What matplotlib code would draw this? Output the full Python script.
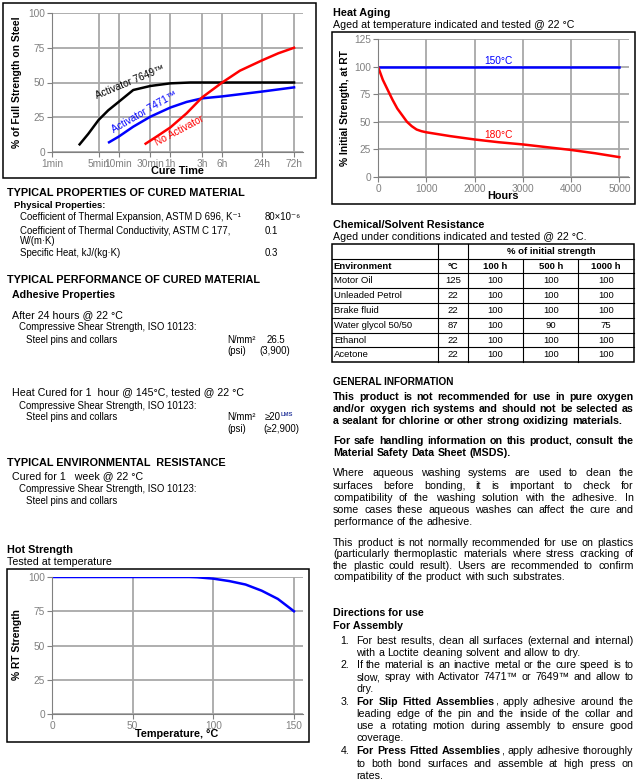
import re
import matplotlib
matplotlib.use('Agg')
import matplotlib.pyplot as plt
from matplotlib.patches import Rectangle
from matplotlib.lines import Line2D
from matplotlib.ticker import NullLocator

plt.rcParams['font.family'] = ['Liberation Sans', 'DejaVu Sans']

# cure speed vs activator (minutes, % of full strength)
cure_ticks = [1, 5, 10, 30, 60, 180, 360, 1440, 4320]
cure_labels = ['1min', '5min', '10min', '30min', '1h', '3h', '6h', '24h', '72h']
a7649_t = [2.6, 3.5, 5, 7, 10, 16.6, 30, 60, 120, 360, 1440, 4320]
a7649_v = [5.5, 13, 23, 30, 36, 44.6, 47.5, 49.4, 50, 50, 50, 50]
a7471_t = [7.2, 10, 16.6, 30, 60, 105, 180, 360, 1440, 4320]
a7471_v = [7, 11, 18.2, 25.4, 32, 36, 38.6, 40, 43.5, 46.5]
noact_t = [25.5, 37, 60, 105, 180, 360, 665, 1440, 2500, 4320]
noact_v = [6, 11, 17.7, 27.8, 39.3, 50, 58.5, 66, 71, 75]

# heat aging (hours, % initial strength)
age_h = [0, 5000]
age_150 = [100, 100]
age180_h = [0, 100, 200, 300, 400, 500, 600, 700, 800, 900, 1000, 1500, 2000, 2500, 3000, 3500, 4000, 4500, 5000]
age180_v = [100, 88, 79, 70, 62, 56, 50, 46, 43, 41.5, 40.5, 37, 34, 31.5, 29.5, 27, 24.5, 21.5, 18]

# hot strength (deg C, % RT strength)
hot_t = [0, 25, 50, 75, 85, 90, 100, 110, 120, 130, 140, 150]
hot_v = [100, 100, 100, 100, 100, 99.8, 98.8, 97, 94.5, 90, 84, 75]

# chemical / solvent resistance table
env = ['Motor Oil', 'Unleaded Petrol', 'Brake fluid', 'Water glycol 50/50', 'Ethanol', 'Acetone']
env_temp = [125, 22, 22, 87, 22, 22]
h100 = [100, 100, 100, 100, 100, 100]
h500 = [100, 100, 100, 90, 100, 100]
h1000 = [100, 100, 100, 75, 100, 100]

W, H = 640, 782
fig = plt.figure(figsize=(6.4, 7.82), dpi=100)
renderer = fig.canvas.get_renderer()
GRAY = '#808080'
GRID = '#a8a8a8'


def T(x, y, s, size=7.7, bold=False, color='black', ha='left', va='center', **kw):
    return fig.text(x / W, 1 - y / H, s, fontsize=size, fontweight='bold' if bold else 'normal',
                    color=color, ha=ha, va=va, **kw)


def tw(s, size, bold):
    t = T(0, 0, s, size, bold)
    w = t.get_window_extent(renderer).width
    t.remove()
    return w


def para(lines, x0, x1, y0, dy, size=7.7, bold=False):
    # justified paragraph, **word** switches bold on/off
    state = bold
    space = tw('a a', size, False) - tw('aa', size, False)
    for i, line in enumerate(lines):
        words = [[]]
        for piece in re.split(r'(\*\*)', line):
            if piece == '**':
                state = not state
                continue
            for j, p in enumerate(piece.split(' ')):
                if j > 0:
                    words.append([])
                if p:
                    words[-1].append((p, state))
        words = [w for w in words if w]
        widths = [sum(tw(s, size, b) for s, b in w) for w in words]
        if i == len(lines) - 1 or len(words) < 2:
            gap = space
        else:
            gap = (x1 - x0 - sum(widths)) / (len(words) - 1)
        x = x0
        y = y0 + i * dy
        for w, wd in zip(words, widths):
            xx = x
            for s, b in w:
                T(xx, y, s, size, b)
                xx += tw(s, size, b)
            x += wd + gap


def frame(x0, y0, x1, y1):
    fig.add_artist(Rectangle((x0 / W, 1 - y1 / H), (x1 - x0) / W, (y1 - y0) / H,
                             transform=fig.transFigure, fill=False, lw=1.1, ec='black'))


def hline(y, x0, x1, lw=0.8):
    fig.add_artist(Line2D([x0 / W, x1 / W], [1 - y / H, 1 - y / H], transform=fig.transFigure, lw=lw, color='black'))


def vline(x, y0, y1, lw=0.8):
    fig.add_artist(Line2D([x / W, x / W], [1 - y0 / H, 1 - y1 / H], transform=fig.transFigure, lw=lw, color='black'))


def make_ax(l, t, r, b):
    ax = fig.add_axes([l / W, 1 - b / H, (r - l) / W, (b - t) / H])
    for s in ['top', 'right']:
        ax.spines[s].set_visible(False)
    for s in ['left', 'bottom']:
        ax.spines[s].set_color(GRAY)
    ax.tick_params(colors=GRAY, labelsize=7.3, length=3.5, pad=1.5)
    ax.grid(True, color=GRID, lw=1.3)
    ax.set_axisbelow(True)
    return ax


# ---- chart 1: cure speed
frame(3, 3, 316, 178)
ax1 = make_ax(52, 13, 303, 152)
ax1.set_xscale('log')
ax1.plot(a7649_t, a7649_v, color='black', lw=1.8)
ax1.plot(a7471_t, a7471_v, color='#0000ff', lw=1.8)
ax1.plot(noact_t, noact_v, color='#ff0000', lw=1.8)
ax1.set_xlim(1, 10 ** 3.77)
ax1.set_ylim(0, 100)
ax1.set_xticks(cure_ticks)
ax1.set_xticklabels(cure_labels)
ax1.xaxis.set_minor_locator(NullLocator())
ax1.set_yticks([0, 25, 50, 75, 100])
T(130, 82, 'Activator 7649™', 7.2, rotation=22.5, ha='center')
T(144, 112, 'Activator 7471™', 7.2, color='#0000ff', rotation=30, ha='center')
T(179, 131, 'No Activator', 7.2, color='#ff0000', rotation=28, ha='center')
T(17, 82, '% of Full Strength on Steel', 7.4, True, rotation=90, ha='center')
T(177, 170.5, 'Cure Time', 7.8, True, ha='center')

# ---- chart 2: heat aging
T(333, 13, 'Heat Aging', 7.8, True)
T(333, 25, 'Aged at temperature indicated and tested @ 22 °C', 7.7)
frame(332, 32, 635, 204)
ax2 = make_ax(378, 39, 629, 177)
ax2.plot(age_h, age_150, color='#0000ff', lw=1.8)
ax2.plot(age180_h, age180_v, color='#ff0000', lw=1.8)
ax2.set_xlim(0, 5200)
ax2.set_ylim(0, 125)
ax2.set_xticks([0, 1000, 2000, 3000, 4000, 5000])
ax2.set_yticks([0, 25, 50, 75, 100, 125])
T(498, 61, '150°C', 7.3, color='#0000ff', ha='center')
T(498, 135, '180°C', 7.3, color='#ff0000', ha='center')
T(345, 108, '% Initial Strength, at RT', 7.4, True, rotation=90, ha='center')
T(503, 196, 'Hours', 7.8, True, ha='center')

# ---- chart 3: hot strength
T(7, 550, 'Hot Strength', 7.8, True)
T(7, 562, 'Tested at temperature', 7.7)
frame(7, 569, 309, 742)
ax3 = make_ax(52, 577, 303, 714)
ax3.plot(hot_t, hot_v, color='#0000ff', lw=1.8)
ax3.set_xlim(0, 155.6)
ax3.set_ylim(0, 100)
ax3.set_xticks([0, 50, 100, 150])
ax3.set_yticks([0, 25, 50, 75, 100])
T(17, 645, '% RT Strength', 7.4, True, rotation=90, ha='center')
T(177, 734, 'Temperature, °C', 7.8, True, ha='center')

# ---- left column text
T(7, 193, 'TYPICAL PROPERTIES OF CURED MATERIAL', 7.8, True)
T(14, 205.5, 'Physical Properties:', 6.8, True)
T(20, 217.5, 'Coefficient of Thermal Expansion, ASTM D 696, K⁻¹', 6.9)
T(265, 217.5, '80×10⁻⁶', 6.9)
T(20, 231, 'Coefficient of Thermal Conductivity, ASTM C 177,', 6.9)
T(20, 241.5, 'W/(m·K)', 6.9)
T(265, 231, '0.1', 6.9)
T(20, 253.5, 'Specific Heat, kJ/(kg·K)', 6.9)
T(265, 253.5, '0.3', 6.9)

T(7, 280, 'TYPICAL PERFORMANCE OF CURED MATERIAL', 7.8, True)
T(12, 294.5, 'Adhesive Properties', 7.7, True)
T(12, 315, 'After 24 hours @ 22 °C', 7.7)
T(19, 327.5, 'Compressive Shear Strength, ISO 10123:', 6.9)
T(26, 340, 'Steel pins and collars', 6.9)
T(227, 340, 'N/mm²', 6.9)
T(266.5, 340, '26.5', 6.9)
T(227, 351.5, '(psi)', 6.9)
T(259.5, 351.5, '(3,900)', 6.9)

T(12, 392.5, 'Heat Cured for 1  hour @ 145°C, tested @ 22 °C', 7.7)
T(19, 406, 'Compressive Shear Strength, ISO 10123:', 6.9)
T(26, 417.5, 'Steel pins and collars', 6.9)
T(227, 417.5, 'N/mm²', 6.9)
T(265, 417.5, '≥20', 6.9)
T(281, 415, 'LMS', 4.2, True, color='#3040a0')
T(227, 428.5, '(psi)', 6.9)
T(263, 428.5, '(≥2,900)', 6.9)

T(7, 463.5, 'TYPICAL ENVIRONMENTAL  RESISTANCE', 7.8, True)
T(12, 476, 'Cured for 1   week @ 22 °C', 7.7)
T(19, 489.5, 'Compressive Shear Strength, ISO 10123:', 6.9)
T(26, 501.5, 'Steel pins and collars', 6.9)

# ---- chemical resistance table
T(333, 225, 'Chemical/Solvent Resistance', 7.8, True)
T(333, 237.5, 'Aged under conditions indicated and tested @ 22 °C.', 7.7)
cols = [332.3, 438.3, 467.7, 523.3, 578.3, 634]
rows = [244.3, 259.3, 273.3, 288.3, 303.3, 318.3, 333.3, 347.3, 361.7]
for y in rows[1:-1]:
    hline(y, cols[0], cols[-1])
for x in cols[1:3]:
    vline(x, rows[0], rows[-1])
for x in cols[3:5]:
    vline(x, rows[1], rows[-1])
frame(cols[0], rows[0], cols[-1], rows[-1])
mid = [(cols[i] + cols[i + 1]) / 2 for i in range(5)]
T((cols[2] + cols[-1]) / 2, (rows[0] + rows[1]) / 2, '% of initial strength', 6.8, True, ha='center')
hy = (rows[1] + rows[2]) / 2
T(cols[0] + 1.5, hy, 'Environment', 6.8, True)
for i, h in enumerate(['°C', '100 h', '500 h', '1000 h']):
    T(mid[i + 1], hy, h, 6.8, True, ha='center')
for r in range(len(env)):
    y = (rows[r + 2] + rows[r + 3]) / 2
    T(cols[0] + 1.5, y, env[r], 6.8)
    for i, v in enumerate([env_temp[r], h100[r], h500[r], h1000[r]]):
        T(mid[i + 1], y, str(v), 6.8, ha='center')

# ---- general information
X0, X1 = 333, 633.5
T(X0, 382.5, 'GENERAL INFORMATION', 7.2, True)
para(['This product is not recommended for use in pure oxygen',
      'and/or oxygen rich systems and should not be selected as',
      'a sealant for chlorine or other strong oxidizing materials.'],
     X0, X1, 396.5, 12.2, 7.7, True)
para(['For safe handling information on this product, consult the',
      'Material Safety Data Sheet (MSDS).'],
     X0, X1, 441.5, 11.2, 7.7, True)
para(['Where aqueous washing systems are used to clean the',
      'surfaces before bonding, it is important to check for',
      'compatibility of the washing solution with the adhesive.  In',
      'some cases these aqueous washes can affect the cure and',
      'performance of the adhesive.'],
     X0, X1, 473.5, 12.05, 7.7)
para(['This product is not normally recommended for use on plastics',
      '(particularly thermoplastic materials where stress cracking of',
      'the plastic could result).  Users are recommended to confirm',
      'compatibility of the product with such substrates.'],
     X0, X1, 542.5, 11.6, 7.7)

T(X0, 612.5, 'Directions for use', 7.7, True)
T(X0, 626, 'For Assembly', 7.7, True)
items = [
    ['For best results, clean all surfaces (external and internal)',
     'with a Loctite cleaning solvent  and allow to dry.'],
    ['If the material is an inactive metal or the cure speed is to',
     'slow, spray with Activator 7471™ or 7649™ and allow to',
     'dry.'],
    ['**For Slip Fitted Assemblies**, apply adhesive around the',
     'leading edge of the pin and the inside of the collar and',
     'use a rotating motion during assembly to ensure good',
     'coverage.'],
    ['**For Press Fitted Assemblies**, apply adhesive thoroughly',
     'to both bond surfaces and assemble at high press on',
     'rates.'],
]
starts = [640.5, 665, 702, 751.5]
for k, (lines, y0) in enumerate(zip(items, starts)):
    T(340.5, y0, f'{k + 1}.', 7.7)
    para(lines, 356.5, X1, y0, 12.1, 7.7)

fig.savefig('out.png', dpi=100)
